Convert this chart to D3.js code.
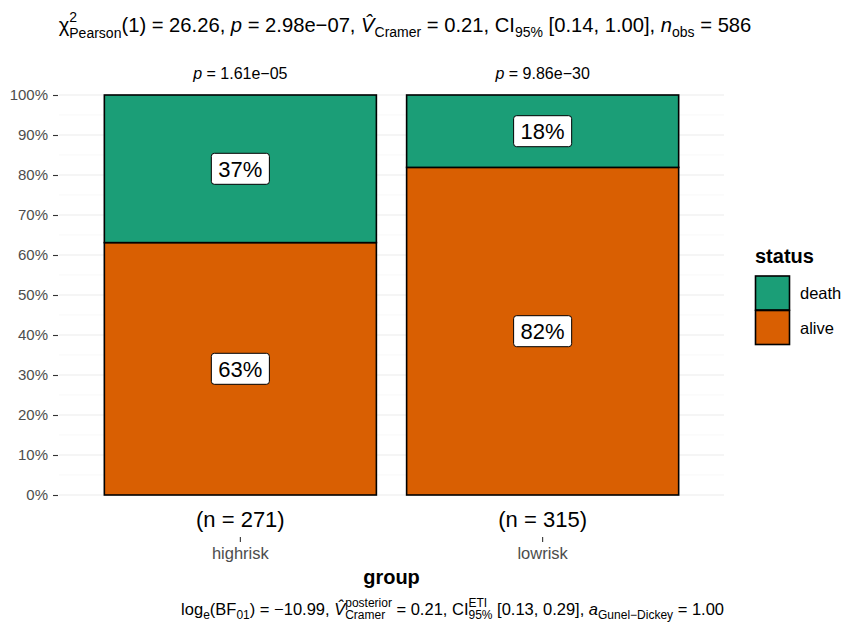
<!DOCTYPE html>
<html>
<head>
	<title>status-by-group</title>
	<meta charset="utf-8">
	<style type="text/css">
		body { margin: 0; background: #fff; }
		text { font-family: "Liberation Sans", Arial, sans-serif; }
	</style>
</head>
<body>
<script type="text/javascript" src="https://cdn.jsdelivr.net/npm/d3@7"></script>
<script type="text/javascript">
	/*=========DATA=========*/
	var groups = ["highrisk", "lowrisk"];
	var statuses = ["death", "alive"];
	var deathCounts = [100, 57];
	var aliveCounts = [171, 258];
	var groupN = [271, 315];
	var groupP = ["1.61e\u221205", "9.86e\u221230"];
	var yTicks = [0, 0.1, 0.2, 0.3, 0.4, 0.5, 0.6, 0.7, 0.8, 0.9, 1.0];
	var yMinor = [0.05, 0.15, 0.25, 0.35, 0.45, 0.55, 0.65, 0.75, 0.85, 0.95];

	/*=========COLOR=========*/
	var color = d3.scaleOrdinal().domain(statuses).range(["#1B9E77", "#D95F02"]);

	/*=========SIZE SVG=========*/
	var w = 845, h = 624;
	var svg = d3.select("body").append("svg").attr("width", w).attr("height", h);

	var pLeft = 59, pRight = 724, pTop = 95, pBottom = 495;

	/*=========SCALES=========*/
	// ggplot discrete: 0.6 expansion each side, bar width 0.9
	var x = d3.scalePoint().domain(groups).range([pLeft, pRight]).padding(0.6);
	var barW = x.step() * 0.9;
	var y = d3.scaleLinear().domain([0, 1]).range([pBottom, pTop]);

	/*=========GRID=========*/
	svg.append("g").selectAll("line").data(yMinor).enter().append("line")
		.attr("x1", pLeft).attr("x2", pRight)
		.attr("y1", function (d) { return y(d); }).attr("y2", function (d) { return y(d); })
		.attr("stroke", "#F3F3F3").attr("stroke-width", 0.6);
	svg.append("g").selectAll("line").data(yTicks).enter().append("line")
		.attr("x1", pLeft).attr("x2", pRight)
		.attr("y1", function (d) { return y(d); }).attr("y2", function (d) { return y(d); })
		.attr("stroke", "#EBEBEB").attr("stroke-width", 1.1);

	/*=========AXES=========*/
	var yAxis = svg.append("g").attr("transform", "translate(" + (pLeft - 1) + ",0)")
		.call(d3.axisLeft(y).tickValues(yTicks).tickFormat(d3.format(".0%")).tickSize(5).tickPadding(5));
	yAxis.select(".domain").remove();
	yAxis.selectAll("line").attr("stroke", "#333").attr("stroke-width", 1.1);
	yAxis.selectAll("text").attr("font-size", 15).attr("fill", "#4D4D4D")
		.attr("font-family", "Liberation Sans, Arial, sans-serif");

	/*=========STACK=========*/
	var table = groups.map(function (g, i) {
		var n = deathCounts[i] + aliveCounts[i];
		return { group: g, death: deathCounts[i] / n, alive: aliveCounts[i] / n };
	});
	var layers = d3.stack().keys(["alive", "death"])(table);

	var segs = [];
	layers.forEach(function (layer) {
		layer.forEach(function (d) {
			segs.push({ key: layer.key, group: d.data.group, y0: d[0], y1: d[1] });
		});
	});

	svg.append("g").selectAll("rect").data(segs).enter().append("rect")
		.attr("x", function (d) { return x(d.group) - barW / 2; })
		.attr("width", barW)
		.attr("y", function (d) { return y(d.y1); })
		.attr("height", function (d) { return y(d.y0) - y(d.y1); })
		.attr("fill", function (d) { return color(d.key); })
		.attr("stroke", "#000").attr("stroke-width", 1.6);

	// 百分比标签
	var labs = svg.append("g").selectAll("g").data(segs).enter().append("g")
		.attr("transform", function (d) {
			return "translate(" + x(d.group) + "," + y((d.y0 + d.y1) / 2) + ")";
		});
	labs.append("text")
		.attr("text-anchor", "middle").attr("dy", "0.36em")
		.attr("font-size", 22).attr("fill", "#000")
		.text(function (d) { return Math.round((d.y1 - d.y0) * 100) + "%"; });
	labs.each(function () {
		var g = d3.select(this);
		var bb = g.select("text").node().getBBox();
		g.insert("rect", "text")
			.attr("x", bb.x - 7).attr("y", -15.5).attr("width", bb.width + 14).attr("height", 31)
			.attr("rx", 3).attr("fill", "#fff").attr("stroke", "#000").attr("stroke-width", 1);
	});

	/*=========X LABELS=========*/
	var xg = svg.append("g");
	xg.selectAll("text.n").data(groups).enter().append("text")
		.attr("x", function (g) { return x(g); }).attr("y", 527)
		.attr("text-anchor", "middle").attr("font-size", 22)
		.text(function (g, i) { return "(n = " + groupN[i] + ")"; });
	xg.selectAll("line").data(groups).enter().append("line")
		.attr("x1", function (g) { return x(g); }).attr("x2", function (g) { return x(g); })
		.attr("y1", 537).attr("y2", 542).attr("stroke", "#333").attr("stroke-width", 1.1);
	xg.selectAll("text.t").data(groups).enter().append("text")
		.attr("x", function (g) { return x(g); }).attr("y", 559)
		.attr("text-anchor", "middle").attr("font-size", 16.5).attr("fill", "#4D4D4D")
		.text(function (g) { return g; });
	svg.append("text").attr("x", (pLeft + pRight) / 2).attr("y", 584)
		.attr("text-anchor", "middle").attr("font-size", 20).attr("font-weight", "bold")
		.text("group");

	// p 值
	svg.append("g").selectAll("text").data(groups).enter().append("text")
		.attr("x", function (g) { return x(g); }).attr("y", 79)
		.attr("text-anchor", "middle").attr("font-size", 16)
		.each(function (g, i) {
			var t = d3.select(this);
			t.append("tspan").attr("font-style", "italic").text("p");
			t.append("tspan").text(" = " + groupP[i]);
		});

	/*=========MATH TEXT HELPERS=========*/
	// pending dx/dy is applied to the next plain run
	function plain(t, s, italic) {
		var n = t.node(), p = n.__pend || { dx: 0, dy: 0 };
		var sp = t.append("tspan").text(s);
		if (p.dx) sp.attr("dx", p.dx);
		if (p.dy) sp.attr("dy", p.dy);
		n.__pend = null;
		if (italic) sp.attr("font-style", "italic");
		return sp;
	}
	function sub(t, s, size, down) {
		t.append("tspan").attr("font-size", size).attr("dy", down).text(s);
		t.node().__pend = { dx: 0, dy: -down };
	}
	// stacked superscript over subscript
	function supsub(t, sup, subs, size, up, down) {
		var a = t.append("tspan").attr("font-size", size).attr("dy", -up).text(sup);
		var wa = a.node().getComputedTextLength();
		var b = t.append("tspan").attr("font-size", size).attr("dx", -wa).attr("dy", up + down).text(subs);
		var wb = b.node().getComputedTextLength();
		t.node().__pend = { dx: wa > wb ? wa - wb : 0, dy: -down };
	}

	/*=========TITLE=========*/
	var title = svg.append("text").attr("x", 405).attr("y", 32)
		.attr("text-anchor", "middle").attr("font-size", 20.2);
	plain(title, "\u03C7");
	supsub(title, "2", "Pearson", 14, 10, 6);
	plain(title, "(1) = 26.26, ");
	plain(title, "p", true);
	plain(title, " = 2.98e\u221207, ");
	plain(title, "V\u0302", true);
	sub(title, "Cramer", 14, 5);
	plain(title, " = 0.21, CI");
	sub(title, "95%", 14, 5);
	plain(title, " [0.14, 1.00], ");
	plain(title, "n", true);
	sub(title, "obs", 14, 5);
	plain(title, " = 586");

	/*=========CAPTION=========*/
	var cap = svg.append("text").attr("x", pRight).attr("y", 615)
		.attr("text-anchor", "end").attr("font-size", 16.5);
	plain(cap, "log");
	sub(cap, "e", 12, 4);
	plain(cap, "(BF");
	sub(cap, "01", 12, 4);
	plain(cap, ") = \u221210.99, ");
	plain(cap, "V\u0302", true);
	supsub(cap, "posterior", "Cramer", 12, 8, 4);
	plain(cap, " = 0.21, CI");
	supsub(cap, "ETI", "95%", 12, 8, 4);
	plain(cap, " [0.13, 0.29], ");
	plain(cap, "a", true);
	sub(cap, "Gunel\u2212Dickey", 12, 4);
	plain(cap, " = 1.00");

	/*=========LEGEND=========*/
	var lg = svg.append("g").attr("transform", "translate(755,0)");
	lg.append("text").attr("x", 0).attr("y", 263).attr("font-size", 20).attr("font-weight", "bold").text("status");
	var items = lg.selectAll("g").data(statuses).enter().append("g")
		.attr("transform", function (d, i) { return "translate(0," + (276 + i * 34.5) + ")"; });
	items.append("rect").attr("x", 0.5).attr("y", 0).attr("width", 34).attr("height", 34)
		.attr("fill", function (d) { return color(d); }).attr("stroke", "#000").attr("stroke-width", 1.6);
	items.append("text").attr("x", 45).attr("y", 23).attr("font-size", 16.5).text(function (d) { return d; });
</script>
</body>
</html>
